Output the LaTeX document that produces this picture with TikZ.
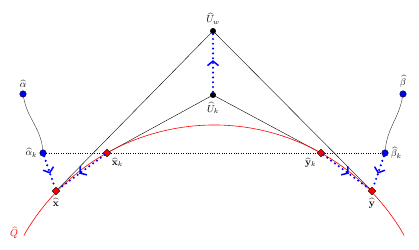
\documentclass[tikz,border=0pt]{standalone}
\usepackage{amsmath}
\usepackage{amssymb}
\usepackage{xcolor}
\usetikzlibrary{arrows.meta, positioning, shapes.geometric, decorations.markings, backgrounds}

\begin{document}
\begin{tikzpicture}[x=1pt, y=1pt, font=\normalsize,
  dual/.style={circle, draw=black, fill=blue, inner sep=0pt, minimum size=6.5pt},
  prim/.style={diamond, draw=black, fill=red, inner sep=0pt, minimum size=8pt},
  ctr/.style={circle, fill=black, inner sep=0pt, minimum size=6pt},
  flow/.style={blue, line width=2.3pt, dash pattern=on 0pt off 4.8pt, line cap=round,
    postaction={decorate},
    decoration={markings, mark=at position 0.55 with
      {\arrow[blue, line width=1.5pt, solid]{Straight Barb[length=4.5pt, width=11pt]}}}}]
\useasboundingbox (0,0) rectangle (419,249);

% ---- the set Q (arc of a circle) ----------------------------------------
\draw[red, line width=0.6pt] (214,-95) ++(150.3:219) arc[start angle=150.3, end angle=29.7, radius=219];
\node[text=red] (Qlab) at (14,16) {$\widehat{Q}$};

% ---- points -------------------------------------------------------------
\node[ctr, label={above:$\widehat{U}_w$}] (Uw) at (213,218) {};
\node[ctr, label={[label distance=1pt]below:$\widehat{U}_k$}] (Uk) at (213,154) {};
\node[dual, label={above:$\widehat{\alpha}$}] (alpha) at (23,155) {};
\node[dual, label={[label distance=-1pt]left:$\widehat{\alpha}_k$}] (alphak) at (43,96) {};
\node[dual, label={above:$\widehat{\beta}$}] (beta) at (403,155) {};
\node[dual, label={[label distance=-1pt]right:$\widehat{\beta}_k$}] (betak) at (385,96) {};
\node[prim, label={below:$\widehat{\mathbf{x}}$}] (x) at (56,58) {};
\node[prim, label={[label distance=-1pt]below right:$\widehat{\mathbf{x}}_k$}] (xk) at (107,96) {};
\node[prim, label={[label distance=-1pt]below left:$\widehat{\mathbf{y}}_k$}] (yk) at (321,96) {};
\node[prim, label={below:$\widehat{\mathbf{y}}$}] (y) at (372,58) {};

% ---- connectors (behind the points) -------------------------------------
\begin{scope}[on background layer]
\draw[black, line width=0.4pt] (Uw.center) -- (x.center);
\draw[black, line width=0.4pt] (Uw.center) -- (y.center);
\draw[black, line width=0.4pt] (Uk.center) -- (xk.center);
\draw[black, line width=0.4pt] (Uk.center) -- (yk.center);
\draw[black, line width=0.4pt, dash pattern=on 0.4pt off 2pt] (alphak) -- (betak);
\draw[black!80, line width=0.4pt] (alpha) to[out=-80, in=95] (alphak);
\draw[black!80, line width=0.4pt] (beta) to[out=-100, in=85] (betak);
\end{scope}
\draw[flow] (alphak) -- (x);
\draw[flow] (xk) -- (x);
\draw[flow] (Uk) -- (Uw);
\draw[flow] (yk) -- (y);
\draw[flow] (betak) -- (y);
\end{tikzpicture}
\end{document}
